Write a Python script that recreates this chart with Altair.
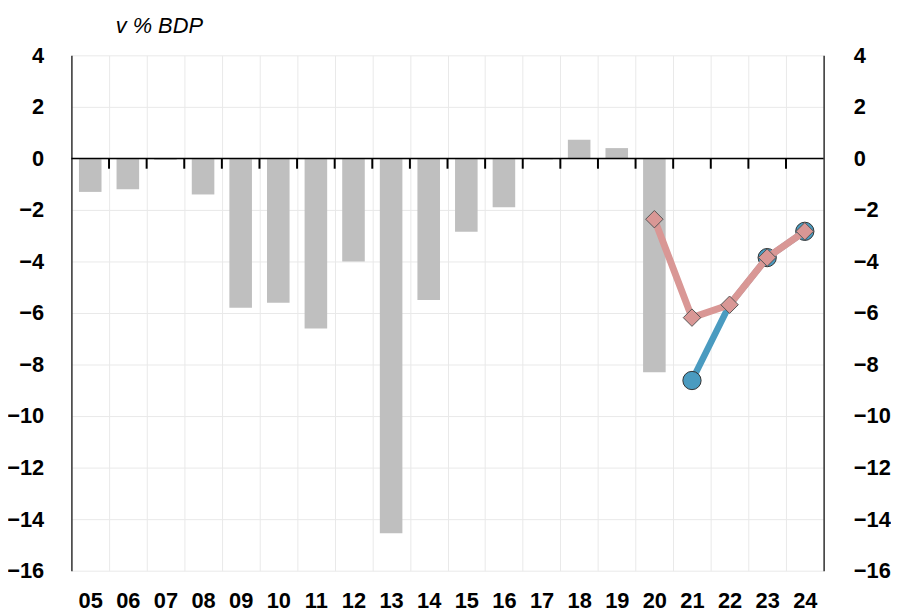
import altair as alt
import pandas as pd

years = ["05", "06", "07", "08", "09", "10", "11", "12", "13", "14",
         "15", "16", "17", "18", "19", "20", "21", "22", "23", "24"]
bar_years = years[:16]
bar_values = [-1.3, -1.2, -0.06, -1.4, -5.8, -5.6, -6.6, -4.0, -14.55, -5.5,
              -2.85, -1.9, -0.05, 0.72, 0.4, -8.3]

blue_years = ["21", "22", "23", "24"]
blue_values = [-8.62, -5.68, -3.85, -2.83]

pink_years = ["20", "21", "22", "23", "24"]
pink_values = [-2.36, -6.18, -5.68, -3.85, -2.83]

y_ticks = [4, 2, 0, -2, -4, -6, -8, -10, -12, -14, -16]

FONT = "Liberation Sans"

bars_df = pd.DataFrame({"year": bar_years, "value": bar_values})
blue_df = pd.DataFrame({"year": blue_years, "value": blue_values})
pink_df = pd.DataFrame({"year": pink_years, "value": pink_values})
tick_df = pd.DataFrame({"year": years[1:]})
zero_df = pd.DataFrame({"value": [0]})

yscale = alt.Scale(domain=[-16, 4], nice=False, zero=False)
xscale = alt.Scale(domain=years, paddingInner=0, paddingOuter=0)

x_axis = alt.Axis(title=None, ticks=False, domain=False, grid=True, tickBand="extent",
                  gridColor="#e9e9e9", gridWidth=1, labelFont=FONT, labelFontSize=22,
                  labelFontWeight="bold", labelColor="#000", labelPadding=20, labelAngle=0)

left_axis = alt.Axis(title=None, values=y_ticks, ticks=False, domain=True, domainColor="#000",
                     domainWidth=1.2, grid=True, gridColor="#e9e9e9", gridWidth=1,
                     labelFont=FONT, labelFontSize=22, labelFontWeight="bold",
                     labelColor="#000", labelPadding=28)
right_axis = alt.Axis(title=None, values=y_ticks, ticks=False, domain=True, domainColor="#000",
                      domainWidth=1.2, grid=False, orient="right",
                      labelFont=FONT, labelFontSize=22, labelFontWeight="bold",
                      labelColor="#000", labelPadding=30, labelAlign="left")

X = alt.X("year:N", scale=xscale, axis=x_axis, sort=years)

bars = alt.Chart(bars_df).mark_bar(color="#bfbfbf", width=alt.RelativeBandSize(0.6)).encode(
    x=X,
    y=alt.Y("value:Q", scale=yscale, axis=left_axis),
)

zero = alt.Chart(zero_df).mark_rule(color="#000", strokeWidth=1.5).encode(
    y=alt.Y("value:Q", scale=yscale, axis=right_axis),
)

ticks = alt.Chart(tick_df).mark_rule(color="#000", strokeWidth=2).encode(
    x=alt.X("year:N", scale=xscale, axis=x_axis, sort=years, bandPosition=0),
    y=alt.datum(0, scale=yscale, axis=None),
    y2=alt.datum(-0.4),
)

blue_line = alt.Chart(blue_df).mark_line(color="#4a9bc0", strokeWidth=6.5).encode(
    x=X,
    y=alt.Y("value:Q", scale=yscale, axis=None),
)
blue_pts = alt.Chart(blue_df.iloc[[0, 2, 3]]).mark_point(
    shape="circle", filled=True, fill="#4a9bc0", stroke="#333", strokeWidth=1, size=340, opacity=1
).encode(
    x=X,
    y=alt.Y("value:Q", scale=yscale, axis=None),
)

pink_line = alt.Chart(pink_df).mark_line(color="#d99795", strokeWidth=7).encode(
    x=X,
    y=alt.Y("value:Q", scale=yscale, axis=None),
)
pink_pts = alt.Chart(pink_df).mark_point(
    shape="diamond", filled=True, fill="#d99795", stroke="#555", strokeWidth=1, size=310, opacity=1
).encode(
    x=X,
    y=alt.Y("value:Q", scale=yscale, axis=None),
)

chart = alt.layer(bars, zero, ticks, blue_line, blue_pts, pink_line, pink_pts).resolve_axis(
    y="independent"
).properties(
    width=759,
    height=520,
    padding={"left": 64, "top": 45, "right": 68, "bottom": 45},
    autosize=alt.AutoSizeParams(type="none"),
    title=alt.TitleParams(
        "v % BDP", anchor="start", dx=110, offset=7, font=FONT, fontSize=22,
        fontStyle="italic", fontWeight="normal", color="#000"
    ),
).configure_view(stroke=None)

chart.save("out.html", embed_options={"renderer": "svg", "actions": False})
